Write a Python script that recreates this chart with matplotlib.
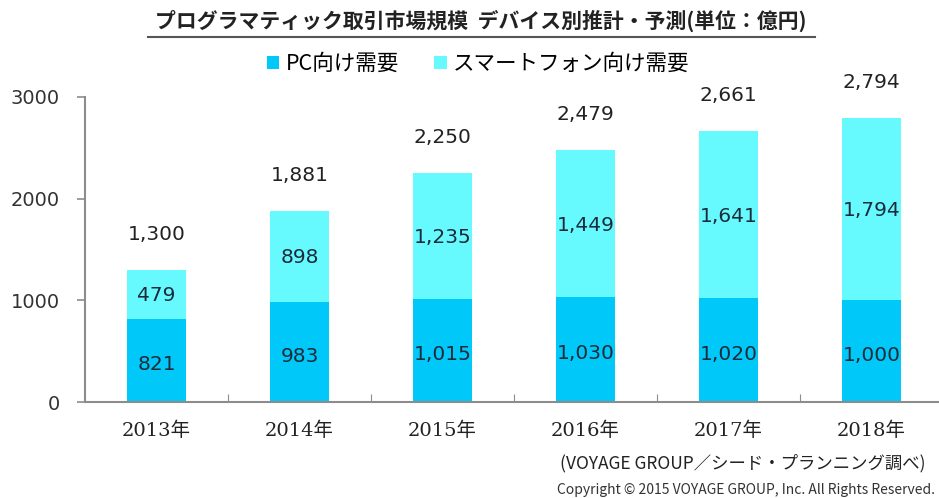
import matplotlib
matplotlib.use("Agg")
import matplotlib.pyplot as plt
import numpy as np

plt.rcParams['font.family'] = ['Noto Sans CJK JP', 'DejaVu Sans']

years = ["2013年", "2014年", "2015年", "2016年", "2017年", "2018年"]
pc = [821, 983, 1015, 1030, 1020, 1000]
sp = [479, 898, 1235, 1449, 1641, 1794]
total = [1300, 1881, 2250, 2479, 2661, 2794]

c_pc = "#00C8F8"
c_sp = "#66FAFF"
grey = "#8c8c8c"
num_font = ['DejaVu Sans']

fig = plt.figure(figsize=(9.39, 4.98), dpi=100)
ax = fig.add_axes([85/939, 96/498, 858/939, 305/498])

x = np.arange(len(years))
w = 0.41
ax.bar(x, pc, w, color=c_pc, label="PC向け需要")
ax.bar(x, sp, w, bottom=pc, color=c_sp, label="スマートフォン向け需要")

for i in range(len(years)):
    ax.text(x[i], pc[i] / 2 - 40, f"{pc[i]:,}", ha="center", va="center",
            fontsize=14.5, color="#1c2b3a", family=num_font)
    ax.text(x[i], pc[i] + sp[i] / 2 - 15, f"{sp[i]:,}", ha="center", va="center",
            fontsize=14.5, color="#1c2b3a", family=num_font)
    ax.text(x[i], total[i] + 350, f"{total[i]:,}", ha="center", va="center",
            fontsize=14.5, color="#222222", clip_on=False, family=num_font)

ax.set_xlim(-0.5, 5.5)
ax.set_ylim(0, 3000)
ax.set_yticks([0, 1000, 2000, 3000])
ax.set_yticklabels(["0", "1000", "2000", "3000"], fontsize=14, color="#333333",
                   family=num_font)
ax.set_xticks(x + 0.5, minor=False)
ax.set_xticklabels([])
ax.set_xticks(x, minor=True)
ax.set_xticklabels(years, minor=True, fontsize=14,
                   family=['DejaVu Serif', 'Noto Sans CJK JP'], color="#222222")
ax.tick_params(axis="x", which="minor", length=0, pad=14)
ax.tick_params(axis="x", which="major", direction="in", length=6, color=grey)
ax.tick_params(axis="y", length=6, color=grey, pad=12, width=1.2)
ax.spines[["top", "right"]].set_visible(False)
ax.spines["left"].set_color(grey)
ax.spines["bottom"].set_color(grey)
ax.spines["left"].set_linewidth(1.5)
ax.spines["bottom"].set_linewidth(1.5)

fig.legend(loc="center", bbox_to_anchor=(478/939, 1 - 64/498), ncol=2,
           frameon=False, fontsize=15.5, handlelength=0.6, handleheight=0.6,
           handletextpad=0.3, columnspacing=1.6)

fig.text(481/939, 1 - 21/498, "プログラマティック取引市場規模  デバイス別推計・予測(単位：億円)",
         ha="center", va="center", fontsize=15, fontweight="bold", color="#222222")
fig.add_artist(plt.Line2D([148/939, 815/939], [1 - 37/498, 1 - 37/498],
                          color="#555555", lw=1.5))

fig.text(926/939, 1 - 463/498, "(VOYAGE GROUP／シード・プランニング調べ)",
         ha="right", va="center", fontsize=12.5, color="#222222")
fig.text(935/939, 1 - 490/498, "Copyright © 2015 VOYAGE GROUP, Inc. All Rights Reserved.",
         ha="right", va="center", fontsize=10, color="#333333")

fig.savefig("out.png", dpi=100)
